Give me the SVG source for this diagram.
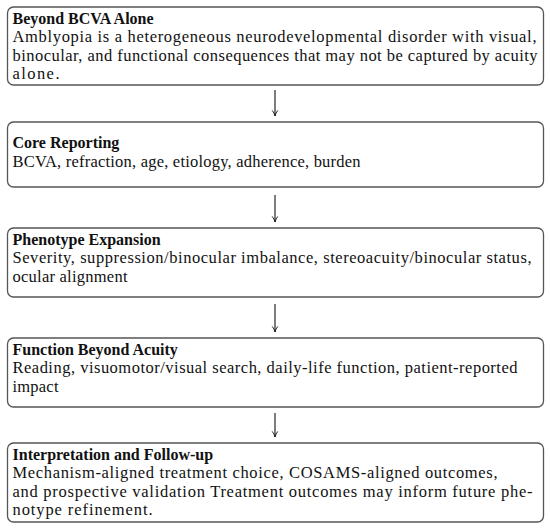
<svg xmlns="http://www.w3.org/2000/svg" width="550" height="531" viewBox="0 0 550 531">
<style>
.box{fill:#fff;stroke:#555;stroke-width:1.3}
.t{font-family:"Liberation Serif","Times New Roman",serif;font-size:16.5px;fill:#111}
.b{font-weight:bold;font-size:16px}
.c{stroke:#111;stroke-width:1.1;fill:none}
</style>
<defs>
<marker id="ah" viewBox="0 0 10 10" refX="9" refY="5" markerWidth="8" markerHeight="8" orient="auto" markerUnits="userSpaceOnUse">
<path d="M2,1.5 Q5,4 9,5 Q5,6 2,8.5" fill="none" stroke="#111" stroke-width="1.1"/>
</marker>
</defs>
<rect width="550" height="531" fill="#fff"/>
<g id="n1">
<rect class="box" x="7.5" y="7" width="536" height="78" rx="6"/>
<text class="t b" x="12.5" y="23.5">Beyond BCVA Alone</text>
<text class="t" x="12.5" y="42" textLength="524">Amblyopia is a heterogeneous neurodevelopmental disorder with visual,</text>
<text class="t" x="12.5" y="60.5" textLength="525">binocular, and functional consequences that may not be captured by acuity</text>
<text class="t" x="12.5" y="79" textLength="47">alone.</text>
</g>
<g id="n2">
<rect class="box" x="7.5" y="122" width="536" height="65" rx="6"/>
<text class="t b" x="12.5" y="148">Core Reporting</text>
<text class="t" x="12.5" y="166.5" textLength="348">BCVA, refraction, age, etiology, adherence, burden</text>
</g>
<g id="n3">
<rect class="box" x="7.5" y="228" width="536" height="69" rx="6"/>
<text class="t b" x="12.5" y="244.5">Phenotype Expansion</text>
<text class="t" x="12.5" y="263" textLength="519">Severity, suppression/binocular imbalance, stereoacuity/binocular status,</text>
<text class="t" x="12.5" y="281.5" textLength="115">ocular alignment</text>
</g>
<g id="n4">
<rect class="box" x="7.5" y="338" width="536" height="69" rx="6"/>
<text class="t b" x="12.5" y="354.5">Function Beyond Acuity</text>
<text class="t" x="12.5" y="373" textLength="505">Reading, visuomotor/visual search, daily-life function, patient-reported</text>
<text class="t" x="12.5" y="391.5" textLength="46">impact</text>
</g>
<g id="n5">
<rect class="box" x="7.5" y="443" width="536" height="79" rx="6"/>
<text class="t b" x="12.5" y="459.5">Interpretation and Follow-up</text>
<text class="t" x="12.5" y="478" textLength="485">Mechanism-aligned treatment choice, COSAMS-aligned outcomes,</text>
<text class="t" x="12.5" y="496.5" textLength="520">and prospective validation Treatment outcomes may inform future phe-</text>
<text class="t" x="12.5" y="515" textLength="140">notype refinement.</text>
</g>
<g id="connectors">
<line class="c" x1="275" y1="90" x2="275" y2="116" marker-end="url(#ah)"/>
<line class="c" x1="275" y1="195" x2="275" y2="222" marker-end="url(#ah)"/>
<line class="c" x1="275" y1="304" x2="275" y2="332" marker-end="url(#ah)"/>
<line class="c" x1="275" y1="413" x2="275" y2="437" marker-end="url(#ah)"/>
</g>
</svg>
